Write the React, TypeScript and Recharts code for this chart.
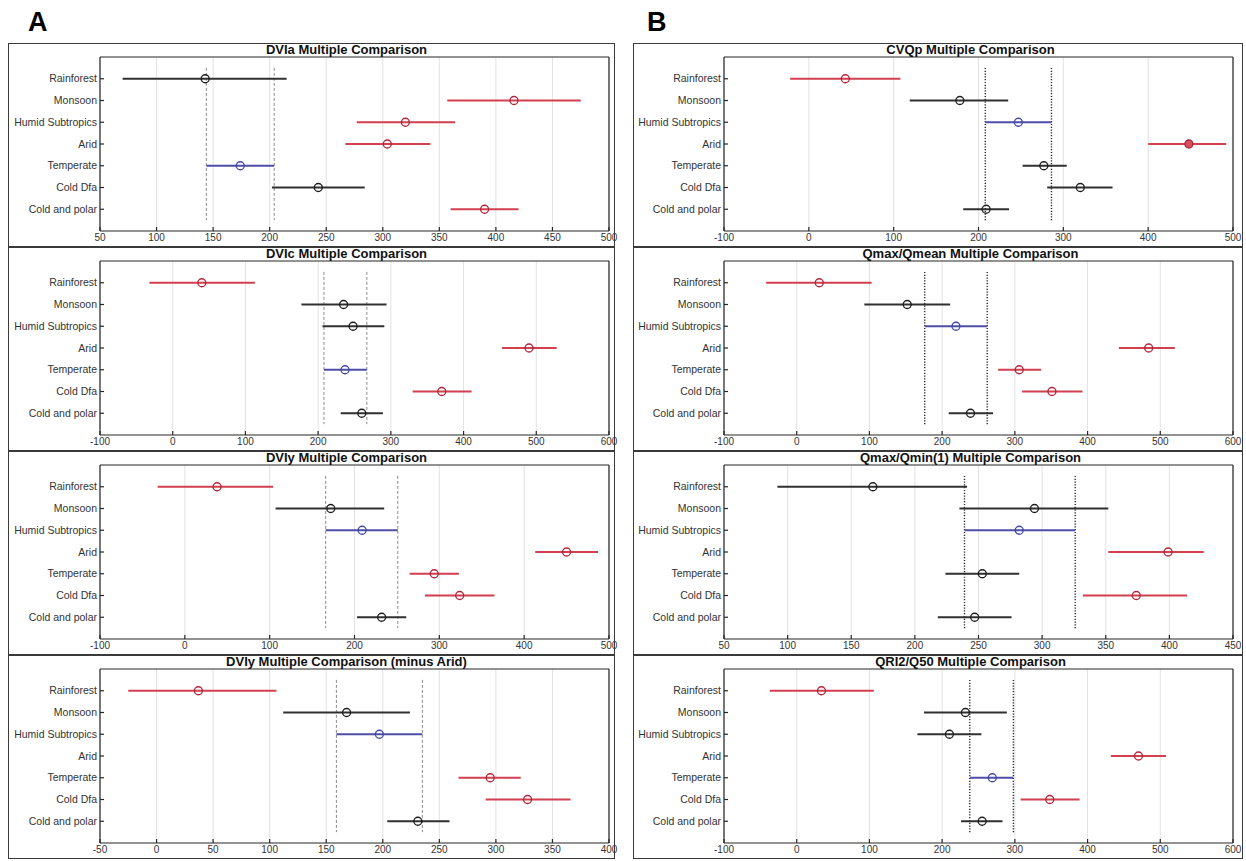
import React from 'react'
import { ScatterChart, Scatter, XAxis, YAxis, CartesianGrid, ErrorBar, ReferenceLine } from 'recharts'

const climates = ['Rainforest', 'Monsoon', 'Humid Subtropics', 'Arid', 'Temperate', 'Cold Dfa', 'Cold and polar']
const climateRows = [1, 2, 3, 4, 5, 6, 7]

// sig: 'ref' = group being compared against, 'diff' = significantly different, 'ns' = not different
type Sig = 'ref' | 'diff' | 'ns' | null

// DVIa
const dviaMean = [143, 416, 320, 304, 174, 243, 390]
const dviaLow = [70, 357, 277, 267, 144, 202, 360]
const dviaHigh = [215, 475, 364, 342, 204, 284, 420]
const dviaSig: Sig[] = ['ns', 'diff', 'diff', 'diff', 'ref', 'ns', 'diff']
const dviaTicks = [50, 100, 150, 200, 250, 300, 350, 400, 450, 500]

// DVIc
const dvicMean = [40, 235, 248, 490, 237, 370, 260]
const dvicLow = [-32, 177, 206, 453, 208, 330, 231]
const dvicHigh = [113, 294, 291, 528, 267, 411, 289]
const dvicSig: Sig[] = ['diff', 'ns', 'ns', 'diff', 'ref', 'diff', 'ns']
const dvicTicks = [-100, 0, 100, 200, 300, 400, 500, 600]

// DVIy
const dviyMean = [38, 172, 209, 450, 294, 324, 232]
const dviyLow = [-32, 107, 166, 413, 265, 283, 203]
const dviyHigh = [104, 235, 251, 487, 323, 365, 261]
const dviySig: Sig[] = ['diff', 'ns', 'ref', 'diff', 'diff', 'diff', 'ns']
const dviyTicks = [-100, 0, 100, 200, 300, 400, 500]

// DVIy without the arid group
const dviyNoAridMean = [37, 168, 197, null, 295, 328, 231]
const dviyNoAridLow = [-25, 112, 159, null, 267, 291, 204]
const dviyNoAridHigh = [106, 224, 235, null, 322, 366, 259]
const dviyNoAridSig: Sig[] = ['diff', 'ns', 'ref', null, 'diff', 'diff', 'ns']
const dviyNoAridTicks = [-50, 0, 50, 100, 150, 200, 250, 300, 350, 400]

// CVQp
const cvqpMean = [43, 178, 247, 448, 277, 320, 209]
const cvqpLow = [-22, 119, 208, 400, 252, 281, 182]
const cvqpHigh = [108, 235, 286, 492, 304, 358, 236]
const cvqpSig: Sig[] = ['diff', 'ns', 'ref', 'diff', 'ns', 'ns', 'ns']
const cvqpTicks = [-100, 0, 100, 200, 300, 400, 500]

// Qmax/Qmean
const qmeanMean = [31, 152, 219, 484, 306, 351, 239]
const qmeanLow = [-42, 93, 176, 443, 277, 310, 209]
const qmeanHigh = [103, 211, 262, 520, 336, 393, 270]
const qmeanSig: Sig[] = ['diff', 'ns', 'ref', 'diff', 'diff', 'diff', 'ns']
const qmeanTicks = [-100, 0, 100, 200, 300, 400, 500, 600]

// Qmax/Qmin(1)
const qminMean = [167, 294, 282, 399, 253, 374, 247]
const qminLow = [92, 235, 239, 352, 224, 332, 218]
const qminHigh = [241, 352, 326, 427, 282, 414, 276]
const qminSig: Sig[] = ['ns', 'ns', 'ref', 'diff', 'ns', 'diff', 'ns']
const qminTicks = [50, 100, 150, 200, 250, 300, 350, 400, 450]

// QRI2/Q50
const qriMean = [34, 232, 210, 470, 269, 348, 255]
const qriLow = [-37, 175, 166, 432, 238, 308, 226]
const qriHigh = [106, 289, 254, 508, 298, 389, 283]
const qriSig: Sig[] = ['diff', 'ns', 'ns', 'diff', 'ref', 'diff', 'ns']
const qriTicks = [-100, 0, 100, 200, 300, 400, 500, 600]

interface PanelDef {
  title: string
  mean: (number | null)[]
  low: (number | null)[]
  high: (number | null)[]
  sig: Sig[]
  ticks: number[]
  filled?: string
}

const columnA: PanelDef[] = [
  { title: 'DVIa Multiple Comparison', mean: dviaMean, low: dviaLow, high: dviaHigh, sig: dviaSig, ticks: dviaTicks },
  { title: 'DVIc Multiple Comparison', mean: dvicMean, low: dvicLow, high: dvicHigh, sig: dvicSig, ticks: dvicTicks },
  { title: 'DVIy Multiple Comparison', mean: dviyMean, low: dviyLow, high: dviyHigh, sig: dviySig, ticks: dviyTicks },
  { title: 'DVIy Multiple Comparison (minus Arid)', mean: dviyNoAridMean, low: dviyNoAridLow, high: dviyNoAridHigh, sig: dviyNoAridSig, ticks: dviyNoAridTicks },
]

const columnB: PanelDef[] = [
  { title: 'CVQp Multiple Comparison', mean: cvqpMean, low: cvqpLow, high: cvqpHigh, sig: cvqpSig, ticks: cvqpTicks, filled: 'Arid' },
  { title: 'Qmax/Qmean Multiple Comparison', mean: qmeanMean, low: qmeanLow, high: qmeanHigh, sig: qmeanSig, ticks: qmeanTicks },
  { title: 'Qmax/Qmin(1) Multiple Comparison', mean: qminMean, low: qminLow, high: qminHigh, sig: qminSig, ticks: qminTicks },
  { title: 'QRI2/Q50 Multiple Comparison', mean: qriMean, low: qriLow, high: qriHigh, sig: qriSig, ticks: qriTicks },
]

const FONT = '"Liberation Sans", Arial, Helvetica, sans-serif'
const PANEL_TOP = 43
const PANEL_H = 204
const PLOT_W = 509
const OVERHANG = 12

const sigColors: Record<string, { line: string; mark: string }> = {
  ns: { line: '#303030', mark: '#1c1c1c' },
  diff: { line: '#d23f4e', mark: '#b0253a' },
  ref: { line: '#4e4ea8', mark: '#4646a6' },
}

interface RefStyle {
  stroke: string
  dash: string
  width: number
}

const dashedRef: RefStyle = { stroke: '#8a8a8a', dash: '3 2', width: 1 }
const dottedRef: RefStyle = { stroke: '#2a2a2a', dash: '1.2 1.6', width: 1.4 }

// single-line category label, no wrapping
const ClimateTick = ({ x, y, payload }: any) => (
  <text x={x} y={y} dy={3.6} textAnchor="end" fontSize={10.5} fill="#333">
    {climates[payload.value - 1]}
  </text>
)

function ComparisonPanel({ def, left, top, width, axisW, refStyle }: {
  def: PanelDef
  left: number
  top: number
  width: number
  axisW: number
  refStyle: RefStyle
}) {
  const rows = climates
    .map((name, i) => {
      const m = def.mean[i]
      return {
        name,
        row: i + 1,
        mean: m,
        err: m == null ? [0, 0] : [m - (def.low[i] as number), (def.high[i] as number) - m],
        sig: def.sig[i],
      }
    })
    .filter((r) => r.mean != null)

  const refIdx = def.sig.indexOf('ref')
  const refBounds = [def.low[refIdx] as number, def.high[refIdx] as number]
  const domain = [def.ticks[0], def.ticks[def.ticks.length - 1]]
  const rightM = width - axisW - PLOT_W - 1

  return (
    <div style={{ position: 'absolute', left, top, width, height: PANEL_H }}>
      <ScatterChart
        width={width + OVERHANG}
        height={PANEL_H}
        margin={{ top: 13, right: rightM + OVERHANG, bottom: 0, left: 0 }}
      >
        <CartesianGrid horizontal={false} stroke="#e2e2e2" strokeWidth={1} />
        <XAxis
          type="number"
          dataKey="mean"
          domain={domain}
          ticks={def.ticks}
          interval={0}
          height={16}
          tickSize={-4}
          tickMargin={7}
          stroke="#262626"
          strokeWidth={1.2}
          tick={{ fontSize: 10, fill: '#333' }}
        />
        <XAxis
          xAxisId="top"
          orientation="top"
          type="number"
          domain={domain}
          ticks={def.ticks}
          interval={0}
          height={1}
          tickSize={-4}
          tick={false}
          stroke="#262626"
          strokeWidth={1.2}
        />
        <YAxis
          type="number"
          dataKey="row"
          domain={[0, 8]}
          reversed
          ticks={climateRows}
          interval={0}
          width={axisW}
          tickSize={-4}
          tickMargin={7}
          stroke="#262626"
          strokeWidth={1.2}
          tick={<ClimateTick />}
        />
        <YAxis
          yAxisId="right"
          orientation="right"
          type="number"
          domain={[0, 8]}
          reversed
          ticks={climateRows}
          interval={0}
          width={1}
          tickSize={-4}
          tick={false}
          stroke="#262626"
          strokeWidth={1.2}
        />
        {refBounds.map((x, i) => (
          <ReferenceLine
            key={i}
            segment={[{ x, y: 0.5 }, { x, y: 7.5 }]}
            stroke={refStyle.stroke}
            strokeWidth={refStyle.width}
            strokeDasharray={refStyle.dash}
          />
        ))}
        {(['ns', 'diff', 'ref'] as const).map((s) => (
          <Scatter
            key={s}
            data={rows.filter((r) => r.sig === s)}
            isAnimationActive={false}
            shape={(p: any) => (
              <circle
                cx={p.cx}
                cy={p.cy}
                r={4}
                fill={p.payload && p.payload.name === def.filled ? '#d9505e' : 'none'}
                stroke={sigColors[s].mark}
                strokeWidth={1.3}
              />
            )}
          >
            <ErrorBar
              dataKey="err"
              direction="x"
              width={0}
              stroke={sigColors[s].line}
              strokeWidth={2}
              isAnimationActive={false}
            />
          </Scatter>
        ))}
      </ScatterChart>
      <div
        style={{
          position: 'absolute',
          left: axisW + PLOT_W / 2 - 8 - 200,
          top: 0,
          width: 400,
          textAlign: 'center',
          fontSize: 13,
          fontWeight: 'bold',
          lineHeight: '14px',
          color: '#111',
        }}
      >
        {def.title}
      </div>
      <div
        style={{
          position: 'absolute',
          left: 0,
          top: 0,
          width,
          height: PANEL_H,
          border: '1px solid #3a3a3a',
          boxSizing: 'border-box',
          pointerEvents: 'none',
        }}
      />
    </div>
  )
}

export default function App() {
  return (
    <div
      style={{
        position: 'absolute',
        left: 0,
        top: 0,
        width: 1246,
        height: 861,
        background: '#fff',
        fontFamily: FONT,
        overflow: 'hidden',
      }}
    >
      <div style={{ position: 'absolute', left: 28, top: 9, fontSize: 27, fontWeight: 'bold', lineHeight: '27px' }}>A</div>
      <div style={{ position: 'absolute', left: 647, top: 9, fontSize: 27, fontWeight: 'bold', lineHeight: '27px' }}>B</div>
      {columnA.map((def, i) => (
        <ComparisonPanel
          key={def.title}
          def={def}
          left={8}
          top={PANEL_TOP + i * PANEL_H}
          width={607}
          axisW={92}
          refStyle={dashedRef}
        />
      ))}
      {columnB.map((def, i) => (
        <ComparisonPanel
          key={def.title}
          def={def}
          left={633}
          top={PANEL_TOP + i * PANEL_H}
          width={610}
          axisW={91}
          refStyle={dottedRef}
        />
      ))}
    </div>
  )
}
